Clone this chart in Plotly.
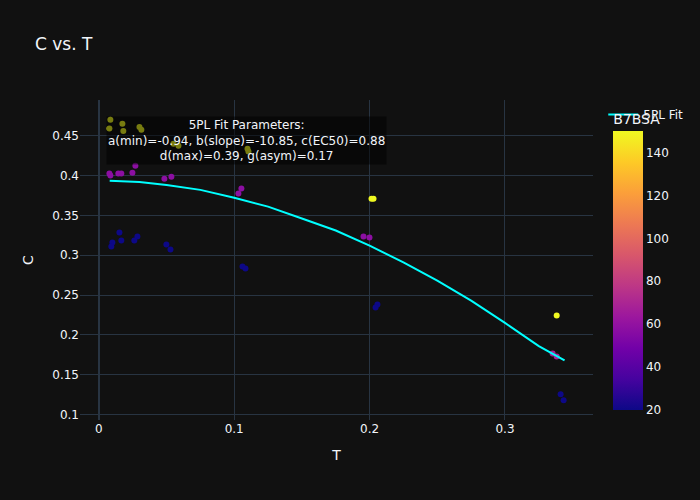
import plotly.graph_objects as go

# Measured data points (T, C, B7BSA)
T = [0.0085, 0.0078, 0.0174, 0.0181, 0.0300, 0.0314, 0.0551, 0.0588, 0.1098, 0.1105,
     0.2014, 0.2029, 0.3382,
     0.0078, 0.0085, 0.0144, 0.0166, 0.0248, 0.0270, 0.0484, 0.0536, 0.1053, 0.1031,
     0.1955, 0.1999,
     0.3352, 0.3382,
     0.0152, 0.0166, 0.0100, 0.0092, 0.0285, 0.0262, 0.0499, 0.0529, 0.1061, 0.1083,
     0.2058, 0.2044, 0.3411, 0.3433]
C = [0.470, 0.459, 0.465, 0.456, 0.461, 0.4575, 0.440, 0.4375, 0.4337, 0.430,
     0.371, 0.371, 0.2243,
     0.4024, 0.400, 0.4024, 0.4024, 0.4036, 0.4124, 0.396, 0.3986, 0.3836, 0.3773,
     0.3234, 0.3222,
     0.1768, 0.173,
     0.3284, 0.3184, 0.3159, 0.3109, 0.3234, 0.3184, 0.3134, 0.3071, 0.2858, 0.2833,
     0.2382, 0.2345, 0.1254, 0.118]
B7BSA = [150, 150, 150, 150, 150, 150, 150, 150, 150, 150,
         150, 150, 150,
         58, 58, 58, 58, 58, 58, 58, 58, 58, 58,
         58, 58,
         68, 68,
         20, 20, 20, 20, 20, 20, 20, 20, 20, 20,
         20, 20, 20, 20]

# Fit curve
T_fit = [0.008, 0.03, 0.05, 0.075, 0.1, 0.125, 0.15, 0.175, 0.2, 0.225,
         0.25, 0.275, 0.3, 0.325, 0.344]
C_fit = [0.3935, 0.392, 0.388, 0.382, 0.372, 0.361, 0.346, 0.331, 0.312, 0.291,
         0.268, 0.243, 0.215, 0.186, 0.168]

fig = go.Figure()
fig.add_trace(go.Scatter(
    x=T, y=C, mode="markers", showlegend=False,
    marker=dict(color=B7BSA, coloraxis="coloraxis", size=6),
))
fig.add_trace(go.Scatter(
    x=T_fit, y=C_fit, mode="lines", name="5PL Fit",
    line=dict(color="cyan", width=2), showlegend=True,
))
fig.update_layout(
    template="plotly_dark",
    width=700, height=500,
    font=dict(family="DejaVu Sans"),
    title=dict(text="C vs. T"),
    xaxis_title="T", yaxis_title="C",
    coloraxis=dict(colorscale="Plasma", cmin=20, cmax=150,
                   colorbar=dict(title=dict(text="B7BSA"))),
    annotations=[dict(
        text="5PL Fit Parameters:<br>a(min)=-0.94, b(slope)=-10.85, c(EC50)=0.88<br>d(max)=0.39, g(asym)=0.17",
        xref="paper", yref="paper", x=0.05, y=0.95,
        xanchor="left", yanchor="top", showarrow=False,
        bgcolor="rgba(0,0,0,0.5)",
    )],
)
fig.write_html("out.html", config={"displayModeBar": False},
               post_script="document.body.style.margin='0';")
